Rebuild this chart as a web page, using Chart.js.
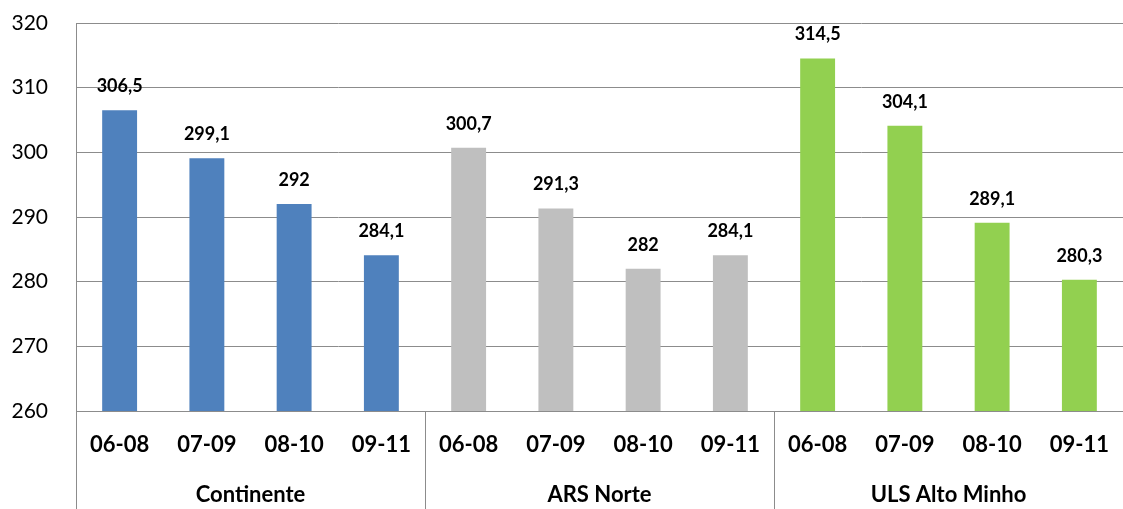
<!DOCTYPE html>
<html>
<head>
<meta charset="utf-8">
<script src="https://cdn.jsdelivr.net/npm/chart.js@4"></script>
<style>
  html, body { margin: 0; padding: 0; background: #fff; }
  #wrap { width: 1123px; height: 509px; }
</style>
</head>
<body>
<div id="wrap"><canvas id="myChart" width="1123" height="509"></canvas></div>
<script>
// dados
const periods = ['06-08', '07-09', '08-10', '09-11'];
const groups = ['Continente', 'ARS Norte', 'ULS Alto Minho'];
const continente = [306.5, 299.1, 292, 284.1];
const arsNorte = [300.7, 291.3, 282, 284.1];
const ulsAltoMinho = [314.5, 304.1, 289.1, 280.3];
const yTicks = [260, 270, 280, 290, 300, 310, 320];

const groupColors = ['#4F81BD', '#BFBFBF', '#92D050'];
const gridColor = '#8C8C8C';
const fontFamily = 'Lato, "Open Sans", sans-serif';

const labels = [].concat(periods, periods, periods);
const values = [].concat(continente, arsNorte, ulsAltoMinho);
const colors = [];
groups.forEach((g, i) => periods.forEach(() => colors.push(groupColors[i])));

// rótulos dos valores e categorias de grupo
const extras = {
    id: 'extras',
    afterDatasetsDraw(chart) {
        const { ctx, chartArea, scales } = chart;
        const meta = chart.getDatasetMeta(0);
        ctx.save();
        ctx.fillStyle = '#000';
        ctx.font = 'bold 18px ' + fontFamily;
        ctx.textAlign = 'center';
        ctx.textBaseline = 'middle';
        meta.data.forEach((bar, i) => {
            const txt = String(values[i]).replace('.', ',');
            ctx.fillText(txt, bar.x, bar.y - 24);
        });

        // separadores e nomes dos grupos
        const x = scales.x;
        const step = x.getPixelForValue(1) - x.getPixelForValue(0);
        ctx.strokeStyle = gridColor;
        ctx.lineWidth = 1;
        ctx.font = 'bold 22px ' + fontFamily;
        groups.forEach((g, gi) => {
            const left = x.getPixelForValue(gi * periods.length) - step / 2;
            const right = x.getPixelForValue((gi + 1) * periods.length - 1) + step / 2;
            ctx.beginPath();
            ctx.moveTo(Math.round(left) + 0.5, chartArea.bottom);
            ctx.lineTo(Math.round(left) + 0.5, chart.height);
            ctx.stroke();
            ctx.fillText(g, (left + right) / 2, 495);
        });
        ctx.restore();
    }
};

const ctx = document.getElementById('myChart').getContext('2d');
const myChart = new Chart(ctx, {
    type: 'bar',
    data: {
        labels: labels,
        datasets: [{
            data: values,
            backgroundColor: colors,
            borderWidth: 0,
            categoryPercentage: 1,
            barPercentage: 0.4
        }]
    },
    options: {
        responsive: false,
        animation: false,
        layout: { padding: { top: 23, right: 0, left: 0, bottom: 0 } },
        plugins: {
            legend: { display: false },
            tooltip: { enabled: false }
        },
        scales: {
            x: {
                grid: { display: false, drawTicks: false },
                border: { display: true, color: gridColor },
                ticks: {
                    color: '#000',
                    font: { family: fontFamily, size: 22, weight: 'bold' },
                    padding: 21,
                    maxRotation: 0,
                    autoSkip: false
                },
                afterFit: s => { s.height = 98; s.paddingLeft = 0; s.paddingRight = 0; }
            },
            y: {
                min: 260,
                max: 320,
                afterBuildTicks: s => { s.ticks = yTicks.map(v => ({ value: v })); },
                grid: { color: gridColor, drawTicks: false },
                border: { display: true, color: gridColor },
                ticks: {
                    color: '#000',
                    font: { family: fontFamily, size: 21 },
                    padding: 28
                },
                afterFit: s => { s.width = 76; s.paddingTop = 0; s.paddingBottom = 0; }
            }
        }
    },
    plugins: [extras]
});
</script>
</body>
</html>
